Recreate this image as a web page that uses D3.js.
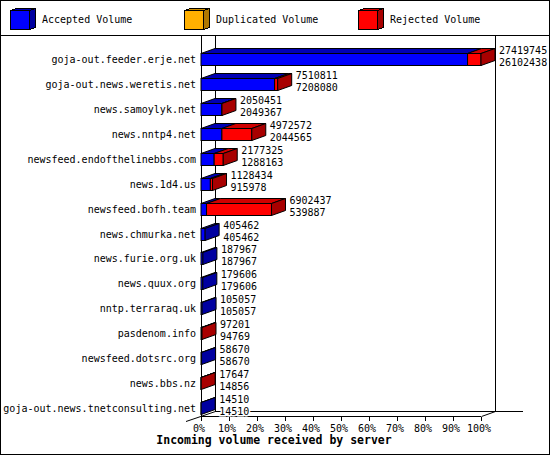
<!DOCTYPE html>
<html>
<head>
<meta charset="utf-8">
<script src="https://cdn.jsdelivr.net/npm/d3@7"></script>
<style>
  body { margin: 0; background: #fff; }
  text { font-family: "DejaVu Sans Mono", "Liberation Mono", monospace; }
</style>
</head>
<body>
<svg id="chart" width="550" height="455"></svg>
<script>
// ---- data ----
const hosts = [
  "goja-out.feeder.erje.net",
  "goja-out.news.weretis.net",
  "news.samoylyk.net",
  "news.nntp4.net",
  "newsfeed.endofthelinebbs.com",
  "news.1d4.us",
  "newsfeed.bofh.team",
  "news.chmurka.net",
  "news.furie.org.uk",
  "news.quux.org",
  "nntp.terraraq.uk",
  "pasdenom.info",
  "newsfeed.dotsrc.org",
  "news.bbs.nz",
  "goja-out.news.tnetconsulting.net"
];
const totalVolume = [27419745, 7510811, 2050451, 4972572, 2177325, 1128434, 6902437,
  405462, 187967, 179606, 105057, 97201, 58670, 17647, 14510];
const acceptedVolume = [26102438, 7208080, 2049367, 2044565, 1288163, 915978, 539887,
  405462, 187967, 179606, 105057, 94769, 58670, 14856, 14510];
const duplicatedVolume = [0, 0, 0, 0, 0, 0, 0, 0, 0, 0, 0, 0, 0, 0, 0];
const rejectedVolume = [1317307, 302731, 1084, 2928007, 889162, 212456, 6362550,
  0, 0, 0, 0, 2432, 0, 2791, 0];
const seriesNames = ["Accepted Volume", "Duplicated Volume", "Rejected Volume"];
const tickValues = [0, 10, 20, 30, 40, 50, 60, 70, 80, 90, 100];
const tickLabels = ["0%", "10%", "20%", "30%", "40%", "50%", "60%", "70%", "80%", "90%", "100%"];
const axisTitle = "Incoming volume received by server";

// ---- styles ----
const front = ["#0000ff", "#ffb000", "#ff0000"];
const topC  = ["#0000b4", "#d09000", "#d00000"];
const sideC = ["#0000a0", "#b07800", "#a80000"];
const DX = 14, DY = -5, BH = 12;

const svg = d3.select("#chart");
const series = [acceptedVolume, duplicatedVolume, rejectedVolume];

const maxTotal = d3.max(totalVolume);
const x = d3.scaleLinear().domain([0, maxTotal]).range([201, 481]);
const pct = d3.scaleLinear().domain([0, 100]).range([201, 481]);
const y = d3.scalePoint().domain(hosts).range([59, 408]);

// border
svg.append("rect").attr("x", 0.5).attr("y", 0.5).attr("width", 549).attr("height", 454)
  .attr("fill", "#fff").attr("stroke", "#000");
svg.append("line").attr("x1", 0).attr("x2", 550).attr("y1", 35.5).attr("y2", 35.5).attr("stroke", "#000");

// legend
const legX = [10, 184, 358];
seriesNames.forEach((name, i) => {
  const g = svg.append("g").attr("shape-rendering", "crispEdges");
  const x0 = legX[i] + 0.5, y0 = 10.5, s = 19, dx = 6, dy = -2;
  g.append("polygon").attr("points", [[x0, y0], [x0 + s, y0], [x0 + s + dx, y0 + dy], [x0 + dx, y0 + dy]].join(" "))
    .attr("fill", topC[i]).attr("stroke", "#000");
  g.append("polygon").attr("points", [[x0 + s, y0], [x0 + s + dx, y0 + dy], [x0 + s + dx, y0 + s + dy], [x0 + s, y0 + s]].join(" "))
    .attr("fill", sideC[i]).attr("stroke", "#000");
  g.append("rect").attr("x", x0).attr("y", y0).attr("width", s).attr("height", s)
    .attr("fill", front[i]).attr("stroke", "#000");
  svg.append("text").attr("x", legX[i] + 32).attr("y", 23).attr("font-size", 10).text(name);
});

// frame lines
const frame = svg.append("g").attr("stroke", "#000").attr("shape-rendering", "crispEdges");
frame.append("line").attr("x1", 215.5).attr("x2", 215.5).attr("y1", 36).attr("y2", 411.5);
frame.append("line").attr("x1", 495.5).attr("x2", 495.5).attr("y1", 36).attr("y2", 411.5);
frame.append("line").attr("x1", 215).attr("x2", 523).attr("y1", 411.5).attr("y2", 411.5);
frame.append("line").attr("x1", 201).attr("x2", 481).attr("y1", 416.5).attr("y2", 416.5);
svg.append("line").attr("stroke", "#000").attr("x1", 215.5).attr("y1", 411.5).attr("x2", 186).attr("y2", 421.5);
svg.append("line").attr("stroke", "#000").attr("x1", 481.5).attr("y1", 416.5).attr("x2", 495.5).attr("y2", 411.5);
frame.append("line").attr("x1", 201.5).attr("x2", 201.5).attr("y1", 36).attr("y2", 417);

// ticks
const ticks = svg.append("g");
tickValues.forEach((v, i) => {
  const tx = Math.round(pct(v)) + 0.5;
  ticks.append("line").attr("x1", tx).attr("x2", tx).attr("y1", 416.5).attr("y2", 421)
    .attr("stroke", "#000").attr("shape-rendering", "crispEdges");
  ticks.append("text").attr("x", pct(v) - 2).attr("y", 432).attr("text-anchor", "middle")
    .attr("font-size", 10).text(tickLabels[i]);
});
svg.append("text").attr("x", 274).attr("y", 444).attr("text-anchor", "middle")
  .attr("font-size", 11.5).attr("font-weight", "bold").text(axisTitle);

// bars
const bars = svg.append("g");
hosts.forEach((h, r) => {
  const yc = Math.round(y(h));
  const yt = yc - 6 + 0.5, yb = yt + BH;
  let cum = 0;
  let lastIdx = 0;
  const segs = [];
  series.forEach((s, i) => {
    const v = s[r];
    if (v > 0) {
      segs.push({ i, x0: x(cum), x1: x(cum + v) });
      lastIdx = i;
    }
    cum += v;
  });
  const g = bars.append("g").attr("stroke", "#000").attr("stroke-width", 1);
  segs.forEach(sg => {
    g.append("polygon").attr("points",
      [[sg.x0, yt], [sg.x1, yt], [sg.x1 + DX, yt + DY], [sg.x0 + DX, yt + DY]].join(" "))
      .attr("fill", topC[sg.i]);
  });
  segs.forEach(sg => {
    g.append("rect").attr("x", sg.x0).attr("y", yt).attr("width", Math.max(0, sg.x1 - sg.x0))
      .attr("height", BH).attr("fill", front[sg.i]);
  });
  const xe = x(cum);
  g.append("polygon").attr("points",
    [[xe, yt], [xe + DX, yt + DY], [xe + DX, yb + DY], [xe, yb]].join(" "))
    .attr("fill", sideC[lastIdx]);

  svg.append("text").attr("x", 196).attr("y", yc + 3.6).attr("text-anchor", "end")
    .attr("font-size", 10).text(h);
  const lx = xe + DX + 4;
  [String(totalVolume[r]), String(acceptedVolume[r])].forEach((t, k) => {
    svg.append("text").attr("x", lx).attr("y", yc - 5.5 + k * 12)
      .attr("font-size", 10).attr("stroke", "#fff").attr("stroke-width", 3)
      .attr("paint-order", "stroke").text(t);
  });
});
</script>
</body>
</html>
